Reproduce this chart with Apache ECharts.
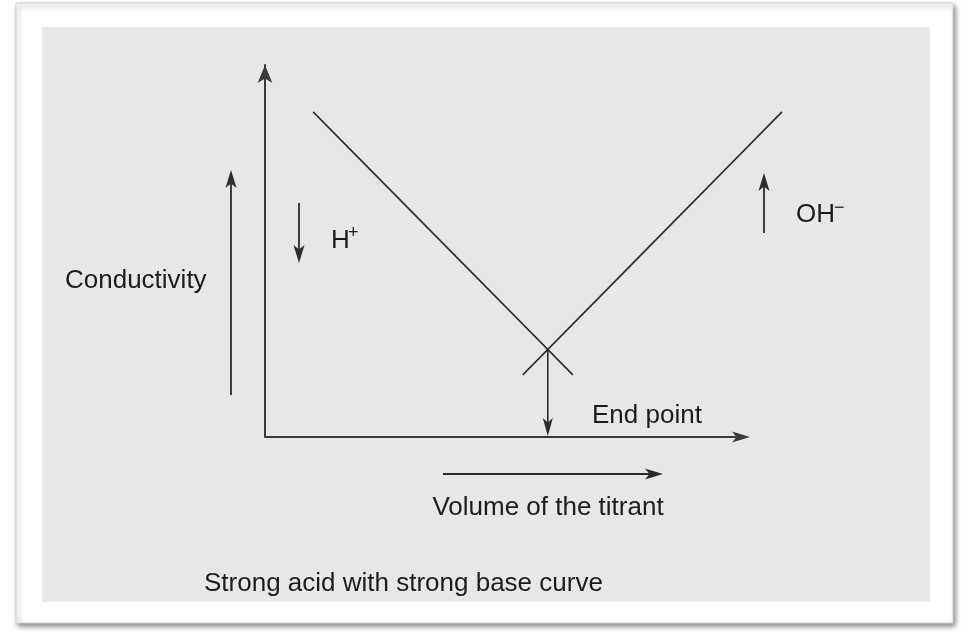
<!DOCTYPE html>
<html><head><meta charset="utf-8">
<script src="https://cdn.jsdelivr.net/npm/echarts@6/dist/echarts.min.js"></script>
<style>html,body{margin:0;padding:0;background:#fff}#c{width:969px;height:639px}</style>
</head><body><div id="c"></div>
<script>
// ---- data (axis units) ----
const acidBranchX = [9.9, 63.3];    // conductivity falls as H+ is neutralised
const acidBranchY = [87.4, 16.7];
const baseBranchX = [53.0, 106.3];  // conductivity rises with excess OH-
const baseBranchY = [16.7, 87.4];
const xRange = [0, 110];
const yRange = [0, 100];
const titleText = 'Strong acid with strong base curve';
const yLabel = 'Conductivity';
const xLabel = 'Volume of the titrant';
const endLabel = 'End point';

// ---- derived ----
function pairs(xs, ys) { return xs.map((x, i) => [x, ys[i]]); }
function intersect(ax, ay, bx, by) {
  const m1 = (ay[1] - ay[0]) / (ax[1] - ax[0]);
  const m2 = (by[1] - by[0]) / (bx[1] - bx[0]);
  const x = (by[0] - ay[0] + m1 * ax[0] - m2 * bx[0]) / (m1 - m2);
  return [x, ay[0] + m1 * (x - ax[0])];
}
const endPoint = intersect(acidBranchX, acidBranchY, baseBranchX, baseBranchY);

const FONT = '"Liberation Sans", Arial, Helvetica, sans-serif';
const INK = '#2b2b2b';
const TXT = '#1c1c1c';

const chart = echarts.init(document.getElementById('c'), null, {renderer: 'canvas'});
const hidden = {axisTick: {show: false}, axisLabel: {show: false}, splitLine: {show: false}};
chart.setOption({
  backgroundColor: '#ffffff',
  animation: false,
  title: {text: titleText, left: 199, top: 566,
    textStyle: {fontFamily: FONT, fontSize: 26, fontWeight: 'normal', color: TXT}},
  grid: {left: 265, right: 169, top: 65, bottom: 202, containLabel: false},
  xAxis: Object.assign({type: 'value', min: xRange[0], max: xRange[1], axisLine: {show: false}}, hidden),
  yAxis: Object.assign({type: 'value', min: yRange[0], max: yRange[1],
    axisLine: {show: true, symbol: ['none', 'arrow'], symbolSize: [11, 18], lineStyle: {color: '#3a3a3a', width: 2}}}, hidden),
  series: [
    {type: 'line', name: 'acid', data: pairs(acidBranchX, acidBranchY), symbol: 'none', clip: false,
      silent: true, lineStyle: {color: INK, width: 1.6}},
    {type: 'line', name: 'base', data: pairs(baseBranchX, baseBranchY), symbol: 'none', clip: false,
      silent: true, lineStyle: {color: INK, width: 1.6}}
  ]
});

function arrow(x1, y1, x2, y2, w, len, lw, color) {
  const c = color || INK;
  const dx = x2 - x1, dy = y2 - y1, d = Math.hypot(dx, dy);
  const ux = dx / d, uy = dy / d, px = -uy, py = ux;
  const bx = x2 - ux * len, by = y2 - uy * len;
  const nx = x2 - ux * len * 0.75, ny = y2 - uy * len * 0.75;
  return [
    {type: 'line', z: 5, shape: {x1: x1, y1: y1, x2: nx, y2: ny}, style: {stroke: c, lineWidth: lw || 1.6}},
    {type: 'polygon', z: 5, shape: {points: [[x2, y2], [bx + px * w / 2, by + py * w / 2], [nx, ny], [bx - px * w / 2, by - py * w / 2]]},
      style: {fill: c}}
  ];
}
function text(str, x, y, opts) {
  return Object.assign({type: 'text', z: 6, x: x, y: y,
    style: Object.assign({text: str, font: '26px ' + FONT, fill: TXT, textVerticalAlign: 'middle', textAlign: 'left'}, opts || {})});
}

const origin = chart.convertToPixel({gridIndex: 0}, [xRange[0], yRange[0]]);
const ep = chart.convertToPixel({gridIndex: 0}, endPoint);
const base = chart.convertToPixel({gridIndex: 0}, [endPoint[0], yRange[0]]);

const graphics = [
  {type: 'rect', z: -100, shape: {x: 16, y: 3, width: 937, height: 620},
    style: {fill: '#ffffff', stroke: '#d2d2d2', lineWidth: 1, shadowBlur: 5, shadowColor: 'rgba(0,0,0,0.45)', shadowOffsetX: 2, shadowOffsetY: 3}},
  {type: 'rect', z: -99, shape: {x: 42, y: 27, width: 888, height: 575}, style: {fill: '#e7e7e7'}},
  // x axis with arrow
  ...arrow(origin[0], origin[1], 750, origin[1], 11, 18, 2, '#3a3a3a'),
  // end point arrow
  ...arrow(ep[0], ep[1], base[0], base[1] - 1, 10, 18, 1.6),
  ...arrow(231, 395, 231, 170, 11, 18, 1.8),
  ...arrow(299, 203, 299, 263, 11, 18, 1.8),
  ...arrow(764, 233, 764, 173, 11, 18, 1.8),
  ...arrow(443, 474, 663, 474, 11, 18, 2.2),
  text(yLabel, 65, 281),
  text('H', 331, 241),
  text('+', 348, 233, {font: '18px ' + FONT}),
  text('OH', 796, 215),
  text('\u2212', 834, 208, {font: '18px ' + FONT}),
  text(endLabel, 592, 416),
  text(xLabel, 548, 508, {textAlign: 'center'})
];
chart.setOption({graphic: {elements: graphics}});
</script></body></html>
